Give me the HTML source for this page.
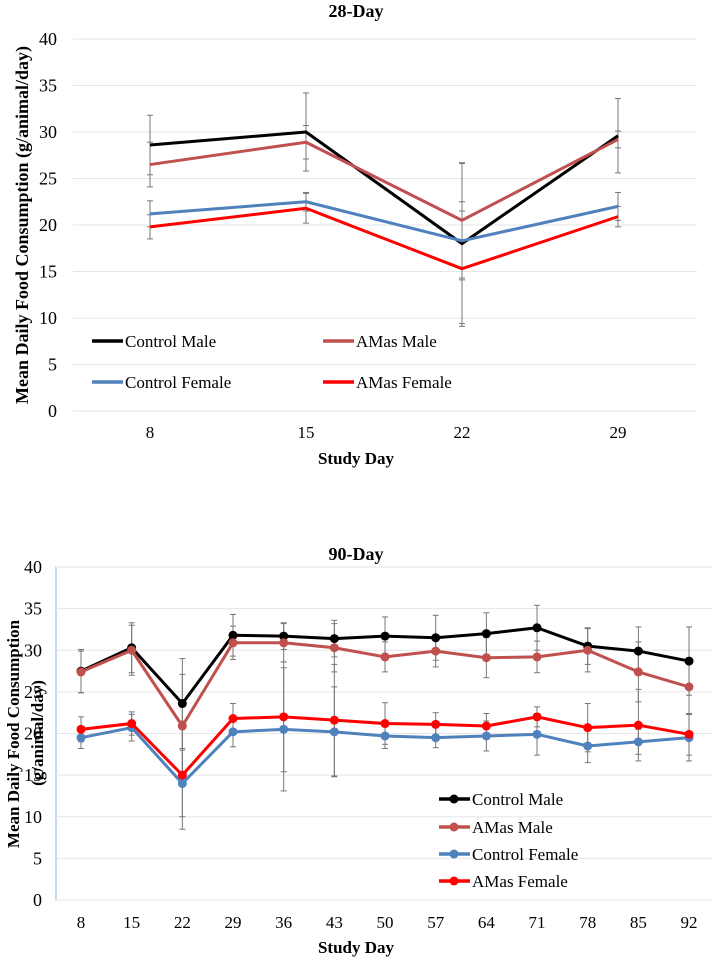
<!DOCTYPE html>
<html><head><meta charset="utf-8"><style>
body{margin:0;background:#fff;}
svg{display:block;font-family:"Liberation Serif",serif;}
</style></head><body>
<svg id="s" width="712" height="957"></svg>
<script>
const days28=[8,15,22,29];
const cm28=[28.6,30.0,18.0,29.6], cm28e=[3.2,4.2,8.6,4.0];
const am28=[26.5,28.9,20.5,29.2], am28e=[2.4,1.8,6.2,0.9];
const cf28=[21.2,22.5,18.3,22.0], cf28e=[1.4,1.0,4.2,1.5];
const af28=[19.8,21.8,15.3,20.9], af28e=[1.3,1.6,6.2,1.1];
const days90=[8,15,22,29,36,43,50,57,64,71,78,85,92];
const cm90=[27.5,30.3,23.6,31.8,31.7,31.4,31.7,31.5,32.0,32.7,30.5,29.9,28.7];
const cm90e=[2.6,3.0,5.4,2.5,1.6,2.2,2.3,2.7,2.5,2.7,2.2,2.9,4.1];
const am90=[27.4,30.0,20.9,30.9,30.9,30.3,29.2,29.9,29.1,29.2,30.0,27.4,25.6];
const am90e=[2.5,3.0,6.2,2.0,2.3,2.9,1.8,1.9,2.4,1.9,2.6,3.6,3.3];
const cf90=[19.5,20.7,14.0,20.2,20.5,20.2,19.7,19.5,19.7,19.9,18.5,19.0,19.5];
const cf90e=[1.3,1.6,4.0,1.8,7.4,5.4,1.5,1.2,1.8,2.5,2.0,1.5,2.8];
const af90=[20.5,21.2,15.0,21.8,22.0,21.6,21.2,21.1,20.9,22.0,20.7,21.0,19.9];
const af90e=[1.5,1.4,6.5,1.8,6.6,6.7,2.5,1.4,1.5,1.2,2.9,4.3,2.5];
const yTicks=[0,5,10,15,20,25,30,35,40];
const colors={cm:'#000000',am:'#c0504d',cf:'#4f81bd',af:'#ff0000'};
const names={cm:'Control Male',am:'AMas Male',cf:'Control Female',af:'AMas Female'};
const NS='http://www.w3.org/2000/svg';
const svg=document.getElementById('s');
function el(tag,attrs,parent,text){const e=document.createElementNS(NS,tag);for(const k in attrs)e.setAttribute(k,attrs[k]);if(text!==undefined)e.textContent=text;(parent||svg).appendChild(e);return e;}

function chart(cfg){
  const g=el('g',{});
  
  
  const y=v=>cfg.y0+(cfg.y40-cfg.y0)*v/40;
  const x=i=>cfg.x0+i*cfg.dx;
  if(cfg.box){const b=el('rect',{x:cfg.box[0],y:cfg.box[1],width:cfg.box[2],height:cfg.box[3],fill:'none',stroke:'#8db3e2','stroke-width':1},g);
    }
  yTicks.forEach(t=>{
    const l=el('line',{x1:cfg.gx1,x2:cfg.gx2,y1:y(t),y2:y(t),stroke:'#e6e6e6','stroke-width':1},g);
    
    const tx=el('text',{x:cfg.ylx,y:y(t)+6,'text-anchor':'end','font-size':18},g,String(t));
    
  });
  cfg.days.forEach((d,i)=>{
    const tx=el('text',{x:x(i),y:cfg.xly,'text-anchor':'middle','font-size':17},g,String(d));
    
  });
  cfg.series.forEach(s=>{
    s.v.forEach((v,i)=>{
      const e=s.e[i];
      const l=el('line',{x1:x(i),x2:x(i),y1:y(v+e),y2:y(v-e),stroke:'#777','stroke-width':1},g);
      
      [v+e,v-e].forEach(w=>{const c=el('line',{x1:x(i)-3,x2:x(i)+3,y1:y(w),y2:y(w),stroke:'#777','stroke-width':1},g);
        });
    });
  });
  cfg.series.forEach(s=>{
    const p=el('polyline',{points:s.v.map((v,i)=>x(i)+','+y(v)).join(' '),fill:'none',stroke:colors[s.k],'stroke-width':3,'stroke-linejoin':'round'},g);
    
    if(cfg.markers) s.v.forEach((v,i)=>{const c=el('circle',{cx:x(i),cy:y(v),r:4.5,fill:colors[s.k]},g);
      });
  });
  cfg.legend.forEach(L=>{
    const lg=el('g',{},g);
    
    el('line',{x1:L[1],x2:L[1]+31,y1:L[2],y2:L[2],stroke:colors[L[0]],'stroke-width':3.5},lg);
    if(cfg.markers) el('circle',{cx:L[1]+15,cy:L[2],r:4.5,fill:colors[L[0]]},lg);
    el('text',{x:L[1]+33,y:L[2]+6,'font-size':cfg.lfs},lg,names[L[0]]);
  });
  const t=el('text',{x:cfg.titleX,y:cfg.titleY,'text-anchor':'middle','font-size':18,'font-weight':'bold'},g,cfg.title);
  
  const xt=el('text',{x:cfg.titleX,y:cfg.xtY,'text-anchor':'middle','font-size':17,'font-weight':'bold'},g,'Study Day');
  
  cfg.ytitles.forEach(Y=>{
    const yt=el('text',{x:Y[0],y:Y[1],'text-anchor':'middle','font-size':Y[3],'font-weight':'bold',transform:'rotate(-90 '+Y[0]+' '+Y[1]+')'},g,Y[2]);
    
  });
}
chart({name:'chart-28-day',days:days28,x0:150,dx:156,y0:411,y40:39,gx1:73,gx2:697,ylx:57,xly:438,
  series:[{k:'cm',v:cm28,e:cm28e},{k:'am',v:am28,e:am28e},{k:'cf',v:cf28,e:cf28e},{k:'af',v:af28,e:af28e}],
  markers:false,lfs:17,legend:[['cm',92,341],['am',323,341],['cf',92,382],['af',323,382]],
  title:'28-Day',titleX:356,titleY:17,xtY:464,
  ytitles:[[28,225,'Mean Daily Food Consumption (g/animal/day)',18]]});
chart({name:'chart-90-day',days:days90,x0:81,dx:50.67,y0:900,y40:567,gx1:56,gx2:712,ylx:42,xly:928,box:[56,567,660,333],
  series:[{k:'cm',v:cm90,e:cm90e},{k:'am',v:am90,e:am90e},{k:'cf',v:cf90,e:cf90e},{k:'af',v:af90,e:af90e}],
  markers:true,lfs:17,legend:[['cm',439,799],['am',439,827],['cf',439,854],['af',439,881]],
  title:'90-Day',titleX:356,titleY:560,xtY:953,
  ytitles:[[19,734,'Mean Daily Food Consumption',17],[43,733,'(g/animal/day)',17]]});
</script>
</body></html>
